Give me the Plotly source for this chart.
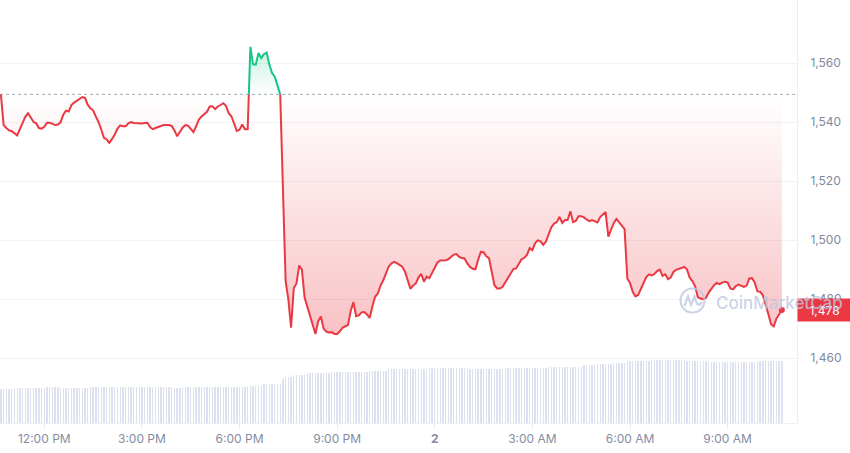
import plotly.graph_objects as go
import pandas as pd

# ---------------- data ----------------
start_time = "2025-01-01 10:40"
step_minutes = 5

prices = [
    1549.4, 1539.0, 1538.0, 1537.2, 1536.9, 1536.2, 1535.5, 1537.6, 1539.7, 1541.8, 1543.0, 1541.5,
    1540.1, 1539.6, 1538.0, 1537.8, 1538.4, 1539.8, 1539.8, 1539.4, 1539.0, 1539.2, 1539.9, 1542.5,
    1543.9, 1543.6, 1545.8, 1546.6, 1547.2, 1547.9, 1548.5, 1548.2, 1545.9, 1544.7, 1544.0, 1541.9,
    1540.0, 1537.5, 1534.7, 1534.1, 1533.0, 1534.3, 1535.8, 1537.8, 1538.9, 1538.6, 1538.6, 1539.6,
    1540.0, 1539.7, 1539.6, 1539.6, 1539.5, 1539.7, 1539.8, 1538.3, 1537.6, 1538.0, 1538.3, 1538.7,
    1539.0, 1539.0, 1539.0, 1538.7, 1537.2, 1535.2, 1536.6, 1538.1, 1539.0, 1538.8, 1537.7, 1536.6,
    1538.6, 1540.9, 1541.9, 1542.7, 1543.5, 1545.3, 1545.4, 1544.4, 1545.3, 1545.8, 1546.4, 1545.5,
    1543.0, 1542.0, 1539.6, 1537.0, 1537.4, 1539.2, 1537.6, 1537.6, 1565.5, 1559.6, 1559.5, 1563.4,
    1561.7, 1563.0, 1563.6, 1559.5, 1556.6, 1555.4, 1552.2, 1549.4, 1518.0, 1486.0, 1480.0, 1470.3,
    1483.7, 1485.3, 1491.4, 1490.0, 1480.5, 1477.3, 1474.0, 1470.5, 1468.2, 1472.5, 1474.1, 1470.0,
    1469.0, 1468.7, 1468.8, 1468.2, 1468.2, 1469.1, 1470.3, 1470.8, 1471.2, 1476.0, 1479.0, 1474.2,
    1474.5, 1475.5, 1475.6, 1474.8, 1473.6, 1477.6, 1480.8, 1481.9, 1484.6, 1486.4, 1488.5, 1491.0,
    1492.1, 1492.6, 1492.2, 1491.6, 1491.0, 1489.4, 1486.1, 1483.5, 1484.6, 1485.3, 1487.3, 1488.6,
    1485.9, 1487.6, 1487.1, 1489.0, 1491.0, 1492.4, 1493.1, 1493.1, 1493.2, 1493.5, 1494.3, 1495.1,
    1495.3, 1494.3, 1493.9, 1493.8, 1492.1, 1490.9, 1490.3, 1490.1, 1493.4, 1496.0, 1495.9, 1494.5,
    1493.9, 1489.1, 1484.7, 1483.6, 1483.6, 1484.2, 1485.6, 1487.1, 1488.8, 1490.2, 1490.4, 1491.9,
    1493.5, 1494.0, 1495.0, 1497.3, 1496.6, 1499.0, 1499.9, 1499.6, 1498.4, 1499.5, 1502.1, 1504.4,
    1505.6, 1506.1, 1507.9, 1505.8, 1506.8, 1506.8, 1509.8, 1506.1, 1506.5, 1508.1, 1508.1, 1507.7,
    1507.0, 1506.4, 1506.8, 1506.4, 1506.0, 1507.8, 1508.7, 1509.5, 1501.2, 1503.7, 1505.8, 1507.2,
    1506.0, 1504.8, 1503.7, 1487.0, 1485.5, 1482.5, 1480.9, 1481.4, 1483.5, 1485.8, 1487.5, 1488.4,
    1488.0, 1488.5, 1489.5, 1490.0, 1487.9, 1488.4, 1486.8, 1487.3, 1489.2, 1489.9, 1490.3, 1490.5,
    1490.9, 1490.1, 1487.3, 1486.1, 1484.4, 1480.7, 1480.2, 1480.0, 1480.4, 1482.2, 1483.6, 1484.7,
    1485.5, 1485.1, 1485.6, 1485.9, 1485.6, 1483.6, 1483.3, 1484.4, 1484.9, 1484.5, 1484.1, 1484.6,
    1487.0, 1487.1, 1485.6, 1482.6, 1482.5, 1481.3, 1478.5, 1475.0, 1471.5, 1470.8, 1473.4, 1474.7,
    1476.3,
]

volumes = [
    47.8, 47.8, 47.8, 47.8, 47.8, 47.8, 49.2, 49.2, 49.2, 49.2, 49.2, 49.2,
    49.2, 49.2, 49.2, 49.2, 49.2, 50.6, 50.6, 50.6, 50.6, 50.6, 49.2, 49.2,
    49.2, 49.2, 49.2, 49.2, 49.2, 49.2, 49.2, 49.2, 49.2, 50.6, 50.6, 50.6,
    50.6, 50.6, 50.6, 50.6, 50.6, 50.6, 50.6, 50.6, 50.6, 50.6, 50.6, 50.6,
    50.6, 50.6, 50.6, 50.6, 50.6, 50.6, 50.6, 50.6, 50.6, 50.6, 50.6, 50.6,
    50.6, 50.6, 50.6, 50.6, 49.2, 49.2, 49.2, 50.6, 50.6, 50.6, 50.6, 50.6,
    50.6, 50.6, 50.6, 50.6, 50.6, 50.6, 50.6, 50.6, 50.6, 50.6, 50.6, 50.6,
    50.6, 50.6, 50.6, 50.6, 50.6, 50.6, 50.6, 52.5, 52.5, 52.5, 52.5, 52.5,
    52.5, 55.3, 55.3, 55.3, 55.3, 55.3, 55.3, 55.3, 62.0, 65.7, 65.7, 65.7,
    68.1, 68.1, 68.1, 68.1, 68.1, 70.5, 70.5, 70.5, 70.5, 70.5, 70.5, 70.5,
    70.5, 70.5, 71.9, 71.9, 71.9, 71.9, 71.9, 71.9, 71.9, 71.9, 71.9, 71.9,
    71.9, 71.9, 71.9, 71.9, 73.8, 73.8, 73.8, 73.8, 73.8, 73.8, 73.8, 76.2,
    76.2, 76.2, 76.2, 76.2, 76.2, 76.2, 76.2, 76.2, 76.2, 76.2, 76.2, 76.2,
    76.2, 77.6, 77.6, 77.6, 77.6, 77.6, 77.6, 77.6, 77.6, 77.6, 77.6, 77.6,
    77.6, 77.6, 77.6, 77.6, 77.6, 76.2, 76.2, 76.2, 76.2, 76.2, 76.2, 76.2,
    76.2, 76.2, 76.2, 76.2, 76.2, 76.2, 78.4, 78.4, 78.4, 78.4, 78.4, 78.4,
    78.4, 78.4, 78.4, 78.4, 78.4, 78.4, 78.4, 78.4, 78.4, 78.4, 79.9, 79.9,
    79.9, 79.9, 79.9, 79.9, 79.9, 79.9, 79.9, 79.9, 79.9, 79.9, 79.9, 82.3,
    82.3, 82.3, 82.3, 82.3, 83.7, 83.7, 83.7, 83.7, 83.7, 83.7, 84.7, 84.7,
    84.7, 84.7, 84.7, 87.9, 87.9, 87.9, 87.9, 87.9, 87.9, 87.9, 87.9, 87.9,
    89.4, 89.4, 89.4, 89.4, 89.4, 89.4, 89.4, 89.4, 89.4, 89.4, 89.4, 89.4,
    89.4, 87.9, 87.9, 87.9, 87.9, 87.9, 87.9, 87.9, 87.9, 86.5, 86.5, 86.5,
    86.5, 86.5, 86.5, 86.5, 86.5, 86.5, 86.5, 86.5, 86.5, 86.5, 86.5, 86.5,
    86.5, 86.5, 86.5, 87.9, 87.9, 87.9, 87.9, 87.9, 87.9, 87.9, 87.9, 87.9,
    87.9,
]

y_ticks = [1460, 1480, 1500, 1520, 1540, 1560]
x_tick_times = ["2025-01-01 12:00", "2025-01-01 15:00", "2025-01-01 18:00", "2025-01-01 21:00",
                "2025-01-02 00:00", "2025-01-02 03:00", "2025-01-02 06:00", "2025-01-02 09:00"]
x_tick_labels = ["12:00 PM", "3:00 PM", "6:00 PM", "9:00 PM", "<b>2</b>", "3:00 AM", "6:00 AM", "9:00 AM"]
last_label = "1,478"
watermark = "CoinMarketCap"

# ---------------- styling ----------------
RED = "#ea3943"
GREEN = "#16c784"
FONT = "Inter"
PLOT_W, PLOT_H = 797, 423

times = list(pd.date_range(start_time, periods=len(prices), freq=f"{step_minutes}min"))
baseline = prices[0]

# add baseline crossing points so colours switch exactly at the baseline
aug_t, aug_p = [], []
for k in range(len(prices)):
    if k > 0:
        p0, p1 = prices[k - 1], prices[k]
        if (p0 - baseline) * (p1 - baseline) < 0:
            frac = (baseline - p0) / (p1 - p0)
            aug_t.append(times[k - 1] + (times[k] - times[k - 1]) * frac)
            aug_p.append(baseline)
    aug_t.append(times[k])
    aug_p.append(prices[k])

red_line = [p if p <= baseline else None for p in aug_p]
green_line = [p if p >= baseline else None for p in aug_p]
red_fill = [min(p, baseline) for p in aug_p]
green_fill = [max(p, baseline) for p in aug_p]
base_line = [baseline for _ in aug_p]

fig = go.Figure()

fig.add_trace(go.Bar(
    x=times, y=volumes, yaxis="y2",
    marker=dict(color="rgba(212,218,236,0.8)", line=dict(width=0)),
    width=step_minutes * 60 * 1000 * 0.5, hoverinfo="skip",
))

fig.add_trace(go.Scatter(x=aug_t, y=base_line, mode="lines", line=dict(width=0), hoverinfo="skip"))
fig.add_trace(go.Scatter(
    x=aug_t, y=red_fill, mode="lines", line=dict(width=0), fill="tonexty",
    fillgradient=dict(type="vertical", start=1465, stop=baseline,
                      colorscale=[[0, "rgba(234,57,67,0.32)"], [1, "rgba(234,57,67,0.0)"]]),
    hoverinfo="skip",
))
fig.add_trace(go.Scatter(x=aug_t, y=base_line, mode="lines", line=dict(width=0), hoverinfo="skip"))
fig.add_trace(go.Scatter(
    x=aug_t, y=green_fill, mode="lines", line=dict(width=0), fill="tonexty",
    fillgradient=dict(type="vertical", start=baseline, stop=1567,
                      colorscale=[[0, "rgba(22,199,132,0.0)"], [1, "rgba(22,199,132,0.28)"]]),
    hoverinfo="skip",
))

fig.add_trace(go.Scatter(x=aug_t, y=red_line, mode="lines", line=dict(color=RED, width=2), connectgaps=False))
fig.add_trace(go.Scatter(x=aug_t, y=green_line, mode="lines", line=dict(color=GREEN, width=2), connectgaps=False))
fig.add_trace(go.Scatter(x=[times[-1]], y=[prices[-1]], mode="markers",
                         marker=dict(color=RED, size=6)))

# pixel -> paper helpers for decoration
def px(x):
    return x / PLOT_W

def py(y):
    return 1 - y / PLOT_H

wm_color = "rgba(190,200,224,0.8)"
shapes = [
    dict(type="line", xref="paper", yref="y", x0=0, x1=1, y0=baseline, y1=baseline,
         line=dict(color="#a6abb8", width=1, dash="dot"), layer="below"),
    dict(type="circle", xref="paper", yref="paper",
         x0=px(680.5), x1=px(704.5), y0=py(312.5), y1=py(288.5),
         line=dict(color=wm_color, width=2.2)),
    dict(type="path", xref="paper", yref="paper",
         path=(f"M {px(684.5)},{py(306)} L {px(688)},{py(296.5)} L {px(691)},{py(305)} "
               f"L {px(694.5)},{py(296.5)} L {px(697)},{py(304)} L {px(699.5)},{py(305)} L {px(702)},{py(302)}"),
         line=dict(color=wm_color, width=2.2)),
]

annotations = [
    dict(xref="paper", yref="y", x=1, y=prices[-1], xanchor="left", yanchor="middle",
         text=last_label, showarrow=False, bgcolor=RED, width=53, height=22, borderpad=0,
         font=dict(family=FONT, size=12, color="white"), align="center"),
    dict(xref="paper", yref="paper", x=px(714), y=py(302.5), xanchor="left", yanchor="middle",
         text=watermark, showarrow=False,
         font=dict(family=FONT, size=17, color=wm_color, weight=500)),
]

fig.update_layout(
    width=850, height=453,
    margin=dict(l=0, r=850 - PLOT_W, t=0, b=453 - PLOT_H, autoexpand=False),
    paper_bgcolor="white", plot_bgcolor="white",
    showlegend=False, bargap=0,
    font=dict(family=FONT, size=12, color="#808a9d"),
    xaxis=dict(
        type="date", automargin=False,
        range=["2025-01-01 10:38:19", "2025-01-02 11:07:55"],
        tickvals=x_tick_times, ticktext=x_tick_labels,
        tickfont=dict(family=FONT, size=12, color="#858ca2"),
        showgrid=False, zeroline=False,
        showline=True, linecolor="#eef0f4", linewidth=1,
        ticks="outside", ticklen=5, tickcolor="#e6e9ef",
    ),
    yaxis=dict(
        side="right", automargin=False, range=[1438.0, 1581.4],
        tickvals=y_ticks, tickformat=",",
        tickfont=dict(family=FONT, size=12, color="#808a9d"),
        showgrid=True, gridcolor="#f0f2f5", zeroline=False,
        showline=True, linecolor="#eceef2", linewidth=1,
        ticks="", ticklabelstandoff=10,
    ),
    yaxis2=dict(overlaying="y", range=[0, 600], visible=False),
    shapes=shapes,
    annotations=annotations,
)

fig.write_html("out.html", config={"displayModeBar": False},
               post_script="document.body.style.margin='0';document.body.style.overflow='hidden';")
